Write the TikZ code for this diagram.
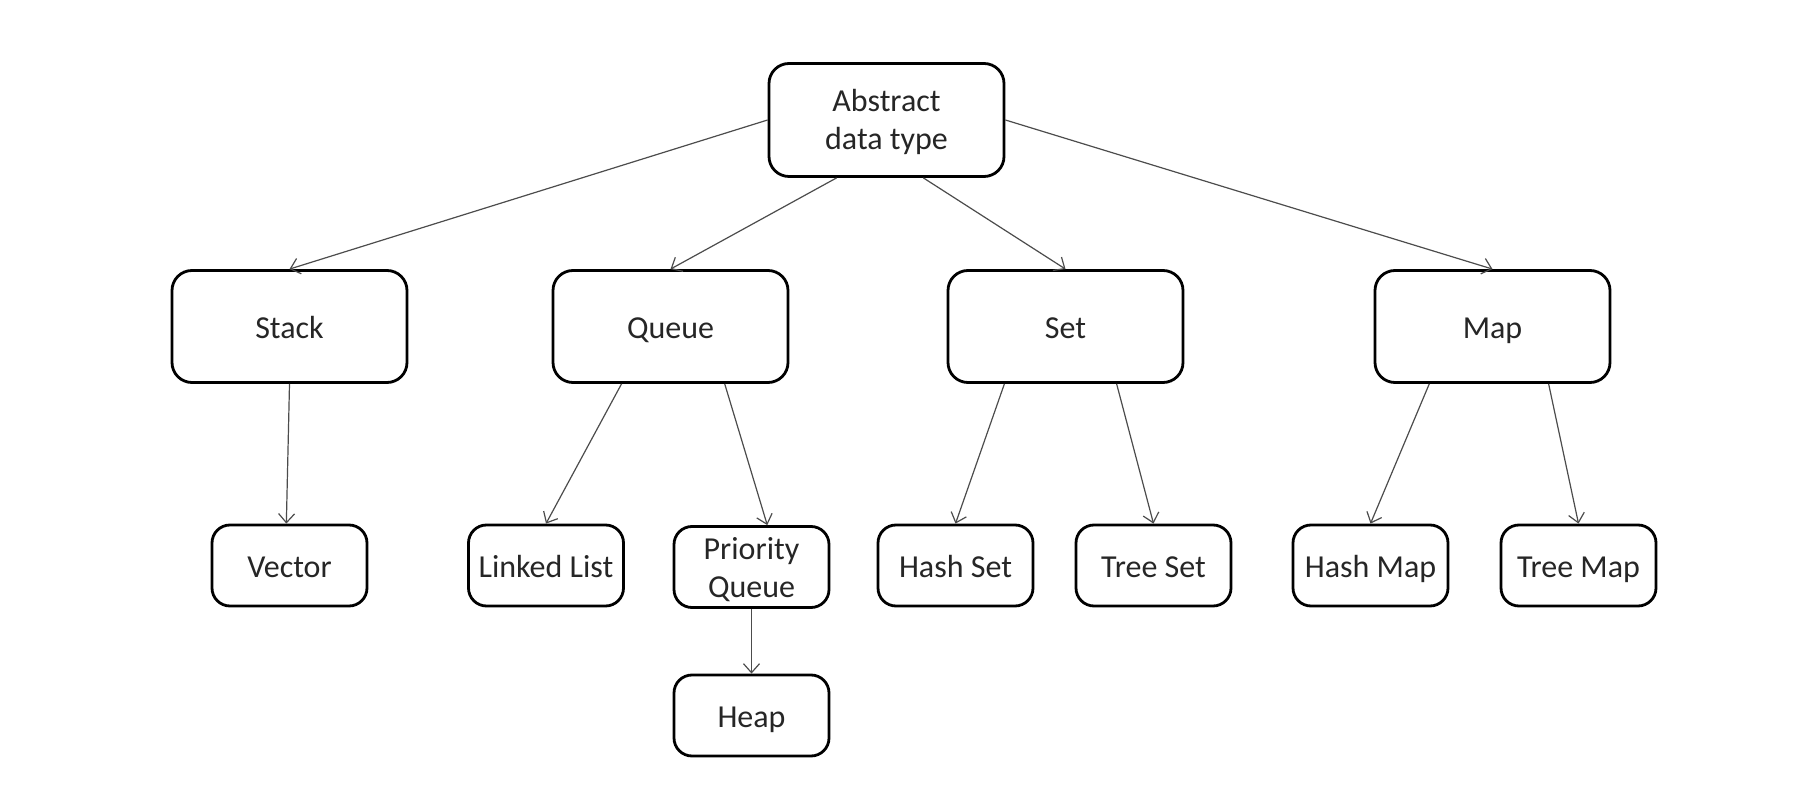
\documentclass[tikz,border=0pt]{standalone}
\usepackage{fontspec}
\setmainfont{Carlito}
\usetikzlibrary{arrows.meta,calc}
\begin{document}
\begin{tikzpicture}[x=0.5pt,y=-0.5pt,
  bigbox/.style={draw=black,line width=1.4pt,rounded corners=10pt,minimum width=117.5pt,minimum height=56pt,inner sep=0pt,align=center,font=\fontsize{16}{19}\selectfont,text=black!85},
  smallbox/.style={draw=black,line width=1.4pt,rounded corners=9pt,minimum width=77.5pt,minimum height=40.5pt,inner sep=0pt,align=center,font=\fontsize{16}{19}\selectfont,text=black!85},
  oneline/.style={text height=13pt,text depth=1pt},
  conn/.style={draw=black!70,line width=0.6pt,-{Straight Barb[length=4.5pt,width=8pt,line width=0.6pt]}}]
\useasboundingbox[fill=white] (0,0) rectangle (1810,806);
\node[bigbox,minimum height=56.5pt,text height=30.2pt,text depth=1pt] (abs) at (886.5,120) {Abstract\\data type};
\node[bigbox,oneline] (stack) at (289.5,326.5) {Stack};
\node[bigbox,oneline] (queue) at (670.5,326.5) {Queue};
\node[bigbox,oneline] (set) at (1065.5,326.5) {Set};
\node[bigbox,oneline] (map) at (1492.5,326.5) {Map};
\node[smallbox,oneline] (vector) at (289.5,565.5) {Vector};
\node[smallbox,oneline] (ll) at (546,565.5) {Linked List};
\node[smallbox,text height=32pt,text depth=1pt] (pq) at (751.5,567) {Priority\\Queue};
\node[smallbox,oneline] (hs) at (955.5,565.5) {Hash Set};
\node[smallbox,oneline] (ts) at (1153.5,565.5) {Tree Set};
\node[smallbox,oneline] (hm) at (1370.5,565.5) {Hash Map};
\node[smallbox,oneline] (tm) at (1578.5,565.5) {Tree Map};
\node[smallbox,oneline] (heap) at (751.5,715.5) {Heap};
\draw[conn] (abs.west) -- (stack.north);
\draw[conn] ($(abs.south west)!0.29!(abs.south east)$) -- (queue.north);
\draw[conn] ($(abs.south west)!0.655!(abs.south east)$) -- (set.north);
\draw[conn] (abs.east) -- (map.north);
\draw[conn] (stack.south) -- ($(vector.north west)!0.48!(vector.north east)$);
\draw[conn] ($(queue.south west)!0.294!(queue.south east)$) -- (ll.north);
\draw[conn] ($(queue.south west)!0.728!(queue.south east)$) -- ($(pq.north west)!0.6!(pq.north east)$);
\draw[conn] ($(set.south west)!0.243!(set.south east)$) -- (hs.north);
\draw[conn] ($(set.south west)!0.715!(set.south east)$) -- (ts.north);
\draw[conn] ($(map.south west)!0.234!(map.south east)$) -- (hm.north);
\draw[conn] ($(map.south west)!0.736!(map.south east)$) -- (tm.north);
\draw[conn] (pq.south) -- (heap.north);
\end{tikzpicture}
\end{document}
